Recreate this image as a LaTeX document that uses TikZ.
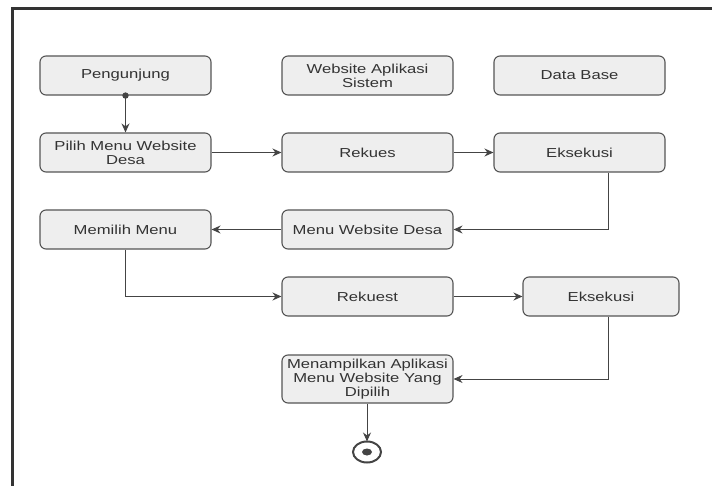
\documentclass[tikz,border=0pt]{standalone}
\usepackage{fontspec}
\setmainfont{Liberation Sans}[FakeStretch=1.28]
\usetikzlibrary{arrows.meta}
\definecolor{boxfill}{HTML}{EEEEEE}
\definecolor{boxline}{HTML}{555555}
\definecolor{txt}{HTML}{333333}
\definecolor{conn}{HTML}{444444}
\tikzset{
  actbox/.style={draw=boxline, fill=boxfill, line width=1.1pt, rounded corners=6pt,
    minimum width=171pt, minimum height=39pt, inner sep=2pt, align=center,
    text=txt, font=\fontsize{13}{13.8}\selectfont},
  flow/.style={draw=conn, line width=1pt, -{Stealth[length=9pt,width=8pt]}},
}
\begin{document}
\begin{tikzpicture}[x=1pt,y=-1pt]
\useasboundingbox (0,0) rectangle (712,486);
% frame
\draw[line width=2.4pt, color=black!80] (12.5,486) -- (12.5,8.5) -- (712,8.5);
% nodes
\node[actbox] (peng) at (125.5,75.5) {Pengunjung};
\node[actbox] (was) at (367.5,75.5) {Website Aplikasi\\Sistem};
\node[actbox] (db) at (579.5,75.5) {Data Base};
\node[actbox] (pilih) at (125.5,152.5) {Pilih Menu Website\\Desa};
\node[actbox] (rekues) at (367.5,152.5) {Rekues};
\node[actbox] (eks1) at (579.5,152.5) {Eksekusi};
\node[actbox] (memilih) at (125.5,229.5) {Memilih Menu};
\node[actbox] (mwd) at (367.5,229.5) {Menu Website Desa};
\node[actbox] (rekuest) at (367.5,296.5) {Rekuest};
\node[actbox, minimum width=156pt] (eks2) at (601,296.5) {Eksekusi};
\node[actbox, minimum height=48pt] (tampil) at (367.5,379) {Menampilkan Aplikasi\\Menu Website Yang\\Dipilih};
% end node
\draw[draw=conn, line width=2pt] (367,452) ellipse [x radius=14pt, y radius=10.5pt];
\fill[conn] (367,452) ellipse [x radius=5pt, y radius=3.5pt];
\coordinate (endtop) at (367,441.5);
% connectors
\fill[conn] (peng.south) circle (3.2pt);
\draw[flow] (peng.south) -- (pilih.north);
\draw[flow] (pilih.east) -- (rekues.west);
\draw[flow] (rekues.east) -- (eks1.west);
\draw[flow] (eks1.south -| 608,0) |- (mwd.east);
\draw[flow] (mwd.west) -- (memilih.east);
\draw[flow] (memilih.south) |- (rekuest.west);
\draw[flow] (rekuest.east) -- (eks2.west);
\draw[flow] (eks2.south -| 608,0) |- (tampil.east);
\draw[flow] (tampil.south -| endtop) -- (endtop);
\end{tikzpicture}
\end{document}
